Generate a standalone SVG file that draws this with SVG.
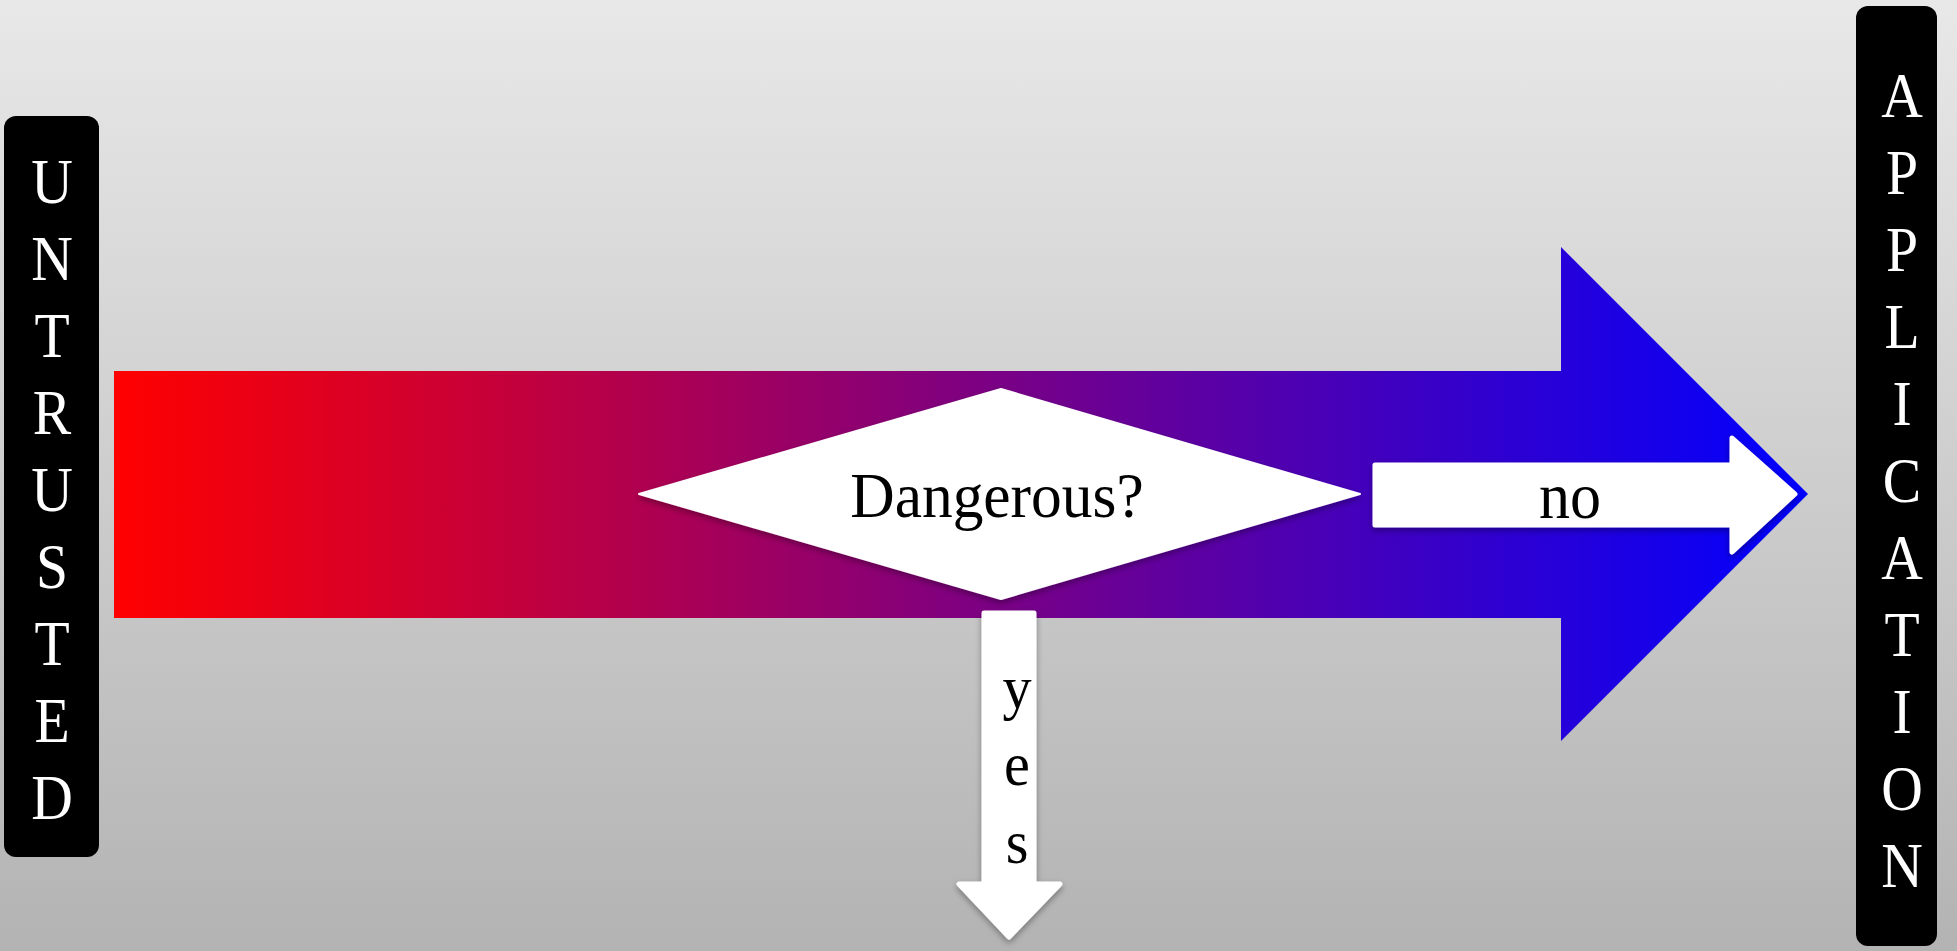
<svg xmlns="http://www.w3.org/2000/svg" width="1957" height="951" viewBox="0 0 1957 951">
<defs>
<linearGradient id="bg" x1="0" y1="0" x2="0" y2="1">
<stop offset="0" stop-color="#e8e8e8"/>
<stop offset="1" stop-color="#b3b3b3"/>
</linearGradient>
<linearGradient id="rb" gradientUnits="userSpaceOnUse" x1="114" y1="0" x2="1808" y2="0">
<stop offset="0" stop-color="#ff0000"/>
<stop offset="1" stop-color="#0000ff"/>
</linearGradient>
<filter id="sh" x="-10%" y="-10%" width="120%" height="130%">
<feDropShadow dx="0" dy="3" stdDeviation="3" flood-color="#000" flood-opacity="0.35"/>
</filter>
</defs>
<style>
.lbl{font-family:"Liberation Serif","Times New Roman",serif;fill:#fff;font-size:64px;text-anchor:middle}
.blk{font-family:"Liberation Serif","Times New Roman",serif;fill:#000;text-anchor:middle}
.box{fill:#000}
.wh{fill:#fff;filter:url(#sh)}
</style>
<rect width="1957" height="951" fill="url(#bg)"/>
<g id="flow">
<path d="M114 371 H1561 V247 L1808 494 L1561 741 V618 H114 Z" fill="url(#rb)"/>
</g>
<g id="untrusted">
<rect class="box" x="4" y="116" width="95" height="741" rx="12"/>
<g transform="translate(52 0) scale(0.9 1) translate(-52 0)">
<text class="lbl" x="52" y="203">U</text>
<text class="lbl" x="52" y="280">N</text>
<text class="lbl" x="52" y="357">T</text>
<text class="lbl" x="52" y="434">R</text>
<text class="lbl" x="52" y="511">U</text>
<text class="lbl" x="52" y="588">S</text>
<text class="lbl" x="52" y="665">T</text>
<text class="lbl" x="52" y="742">E</text>
<text class="lbl" x="52" y="819">D</text>
</g>
</g>
<g id="application">
<rect class="box" x="1856" y="6" width="81" height="940" rx="12"/>
<g transform="translate(1902 0) scale(0.9 1) translate(-1902 0)">
<text class="lbl" x="1902" y="117">A</text>
<text class="lbl" x="1902" y="194">P</text>
<text class="lbl" x="1902" y="271">P</text>
<text class="lbl" x="1902" y="348">L</text>
<text class="lbl" x="1902" y="425">I</text>
<text class="lbl" x="1902" y="502">C</text>
<text class="lbl" x="1902" y="579">A</text>
<text class="lbl" x="1902" y="656">T</text>
<text class="lbl" x="1902" y="733">I</text>
<text class="lbl" x="1902" y="810">O</text>
<text class="lbl" x="1902" y="887">N</text>
</g>
</g>
<g id="decision">
<path class="wh" d="M639 494 L1001 389 L1360 494 L1001 599 Z" stroke="#fff" stroke-width="2" stroke-linejoin="round"/>
<text class="blk" x="997" y="517" font-size="64" transform="translate(997 0) scale(0.96 1) translate(-997 0)">Dangerous?</text>
</g>
<g id="connectors">
<g id="no-arrow">
<path class="wh" d="M1375 465 H1732 V438 L1795 494 L1732 552 V525 H1375 Z" stroke="#fff" stroke-width="5" stroke-linejoin="round"/>
<text class="blk" x="1570" y="518" font-size="66" transform="translate(1570 0) scale(0.94 1) translate(-1570 0)">no</text>
</g>
<g id="yes-arrow">
<path class="wh" d="M984 613 H1034 V884 H1060 L1009 937 L959 884 H984 Z" stroke="#fff" stroke-width="5" stroke-linejoin="round"/>
<g transform="translate(1017 0) scale(0.94 1) translate(-1017 0)">
<text class="blk" x="1017" y="708" font-size="62">y</text>
<text class="blk" x="1017" y="785" font-size="62">e</text>
<text class="blk" x="1017" y="863" font-size="62">s</text>
</g>
</g>
</g>
</svg>
